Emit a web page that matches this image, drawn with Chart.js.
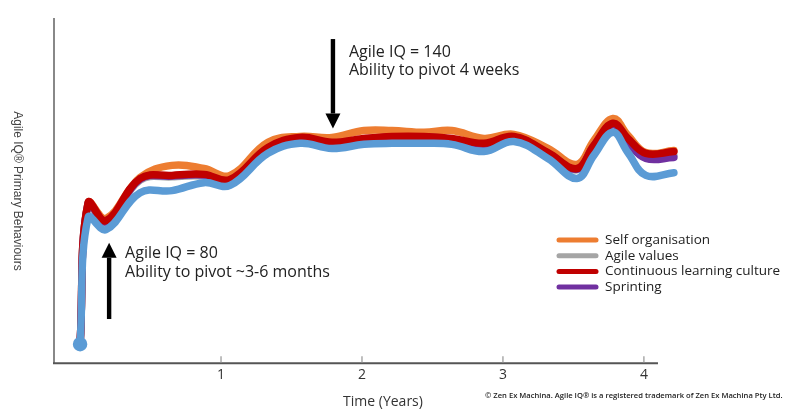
<!DOCTYPE html>
<html>
<head>
<meta charset="utf-8">
<script src="https://cdn.jsdelivr.net/npm/chart.js@4.4.1/dist/chart.umd.min.js"></script>
<style>
  html, body { margin: 0; padding: 0; background: #fff; }
  #wrap { width: 800px; height: 420px; }
</style>
</head>
<body>
<div id="wrap"><canvas id="myChart" width="800" height="420"></canvas></div>
<script>
(function () {
  'use strict'

  // Data (time in years, behaviour score in arbitrary units 0-100)
  const years = [0, 0.057, 0.184, 0.426, 0.652, 0.879, 1.064, 1.333, 1.560, 1.787, 2.014, 2.213,
    2.440, 2.638, 2.865, 3.078, 3.319, 3.525, 3.645, 3.780, 3.887, 4.014, 4.213]
  const selfOrganisation = [5.5, 46.5, 41.9, 53.8, 57.3, 56.4, 54.4, 64.0, 65.7, 65.4, 67.4, 67.4,
    66.9, 67.4, 65.1, 66.3, 62.2, 57.6, 64.5, 70.9, 66.0, 61.0, 61.6]
  const agileValues = [5.5, 46.0, 40.8, 53.0, 54.0, 54.2, 52.8, 62.0, 64.9, 63.5, 64.6, 65.2,
    65.2, 64.6, 63.2, 65.2, 60.5, 56.0, 62.6, 68.9, 63.9, 59.6, 60.2]
  const learningCulture = [5.5, 46.5, 41.3, 53.5, 54.4, 54.7, 53.2, 62.5, 65.4, 64.0, 65.1, 65.7,
    65.7, 65.1, 63.7, 65.7, 61.0, 56.4, 63.1, 69.5, 65.1, 60.8, 61.3]
  const sprinting = [5.5, 46.3, 41.0, 53.3, 54.2, 54.5, 53.0, 62.3, 65.2, 63.8, 64.9, 65.5,
    65.5, 64.9, 63.5, 65.5, 60.8, 56.2, 62.9, 69.2, 64.0, 59.3, 59.6]
  const agileIQ = [5.5, 42.2, 38.7, 49.4, 50.0, 52.3, 51.5, 60.8, 63.7, 62.2, 63.4, 63.7,
    63.7, 63.4, 61.3, 64.2, 59.3, 53.5, 60.2, 66.9, 61.0, 54.4, 55.2]
  const xTicks = [1, 2, 3, 4]

  // annotation arrows: x in years, tip / tail in score units
  const notes = [
    { x: 1.794, tip: 68.0, tail: 93.9, lines: ['Agile IQ = 140', 'Ability to pivot 4 weeks'] },
    { x: 0.206, tip: 34.9, tail: 12.8, lines: ['Agile IQ = 80', 'Ability to pivot ~3-6 months'] }
  ]

  const FONT = '"Open Sans", "DejaVu Sans", sans-serif'

  const xy = (ys) => years.map((x, i) => ({ x: x, y: ys[i] }))

  const datasets = [
    { label: 'Self organisation', data: xy(selfOrganisation), borderColor: '#ED7D31', order: 4 },
    { label: 'Agile values', data: xy(agileValues), borderColor: '#A5A5A5', order: 3 },
    { label: 'Continuous learning culture', data: xy(learningCulture), borderColor: '#C00000', order: 1 },
    { label: 'Sprinting', data: xy(sprinting), borderColor: '#7030A0', order: 2 },
    { label: '', data: xy(agileIQ), borderColor: '#5B9BD5', order: 0,
      pointRadius: (c) => c.dataIndex === 0 ? 3.5 : 0, pointBackgroundColor: '#5B9BD5' }
  ]
  datasets.forEach(d => {
    d.borderWidth = 7.5
    d.tension = 0.4
    d.fill = false
    d.borderCapStyle = 'round'
    d.borderJoinStyle = 'round'
    if (d.pointRadius === undefined) d.pointRadius = 0
  })

  function fitSize (ctx, text, width, weight) {
    ctx.font = weight + ' 20px ' + FONT
    return 20 * width / ctx.measureText(text).width
  }

  // axes, titles, legend, arrows
  const decor = {
    id: 'decor',
    afterDatasetsDraw (chart) {
      const ctx = chart.ctx
      const xs = chart.scales.x
      const ys = chart.scales.y
      const area = chart.chartArea
      ctx.save()

      // axis lines
      ctx.lineWidth = 2
      ctx.strokeStyle = '#888'
      ctx.beginPath()
      ctx.moveTo(area.left, area.top)
      ctx.lineTo(area.left, area.bottom)
      ctx.stroke()
      ctx.strokeStyle = '#555'
      ctx.beginPath()
      ctx.moveTo(area.left - 1, area.bottom)
      ctx.lineTo(xs.getPixelForValue(4.1), area.bottom)
      ctx.stroke()
      ctx.strokeStyle = '#aaa'
      ctx.lineWidth = 1.5
      xTicks.forEach(v => {
        const px = xs.getPixelForValue(v)
        ctx.beginPath()
        ctx.moveTo(px, area.bottom - 7)
        ctx.lineTo(px, area.bottom - 1)
        ctx.stroke()
      })

      // axis titles
      ctx.fillStyle = '#333'
      ctx.textBaseline = 'middle'
      ctx.textAlign = 'center'
      ctx.font = '14px ' + FONT
      ctx.fillText('Time (Years)', 383, 402)

      ctx.save()
      ctx.translate(17, 191)
      ctx.rotate(Math.PI / 2)
      ctx.fillStyle = '#444'
      ctx.font = '12px "Liberation Sans", Arial, sans-serif'
      ctx.fillText('Agile IQ\u00AE Primary Behaviours', 0, 0)
      ctx.restore()

      // copyright
      const copy = '\u00A9 Zen Ex Machina. Agile IQ\u00AE is a registered trademark of Zen Ex Machina Pty Ltd.'
      ctx.textAlign = 'left'
      ctx.fillStyle = '#222'
      ctx.font = '600 ' + fitSize(ctx, copy, 298, '600').toFixed(2) + 'px ' + FONT
      ctx.fillText(copy, 485, 396)

      // legend
      const legendOrder = [0, 1, 2, 3]
      legendOrder.forEach((idx, i) => {
        const ds = chart.data.datasets[idx]
        const y = 240 + i * 15.7
        ctx.strokeStyle = ds.borderColor
        ctx.lineWidth = 5
        ctx.lineCap = 'round'
        ctx.beginPath()
        ctx.moveTo(559, y)
        ctx.lineTo(596, y)
        ctx.stroke()
        ctx.fillStyle = '#222'
        ctx.font = '13.5px ' + FONT
        ctx.fillText(ds.label, 605, y)
      })

      // arrows + notes
      notes.forEach(n => {
        const px = xs.getPixelForValue(n.x)
        const tip = ys.getPixelForValue(n.tip)
        const tail = ys.getPixelForValue(n.tail)
        const dir = tip > tail ? 1 : -1
        const head = 15
        ctx.fillStyle = '#000'
        ctx.fillRect(px - 2.2, Math.min(tail, tip - dir * head), 4.4, Math.abs(tip - dir * head - tail))
        ctx.beginPath()
        ctx.moveTo(px, tip)
        ctx.lineTo(px - 7.5, tip - dir * head)
        ctx.lineTo(px + 7.5, tip - dir * head)
        ctx.closePath()
        ctx.fill()

        const top = dir > 0 ? tail + 13 : tip + 11
        ctx.fillStyle = '#222'
        ctx.font = '16px ' + FONT
        ctx.textAlign = 'left'
        n.lines.forEach((t, i) => ctx.fillText(t, px + 16, top + i * 18.5))
      })

      ctx.restore()
    }
  }

  var ctx = document.getElementById('myChart')
  // eslint-disable-next-line no-unused-vars
  var myChart = new Chart(ctx, {
    type: 'line',
    data: { datasets: datasets },
    options: {
      responsive: false,
      animation: false,
      devicePixelRatio: 1,
      layout: { padding: { left: 54, top: 18, right: 80, bottom: 34 } },
      plugins: {
        legend: { display: false },
        tooltip: { enabled: false }
      },
      scales: {
        x: {
          type: 'linear',
          min: -0.185,
          max: 4.54,
          afterBuildTicks: (scale) => { scale.ticks = xTicks.map(v => ({ value: v })) },
          grid: { display: false, drawTicks: false },
          border: { display: false },
          ticks: { padding: 3, color: '#333', font: { family: FONT, size: 14 } }
        },
        y: {
          display: false,
          min: 0,
          max: 100
        }
      }
    },
    plugins: [decor]
  })
})()
</script>
</body>
</html>
